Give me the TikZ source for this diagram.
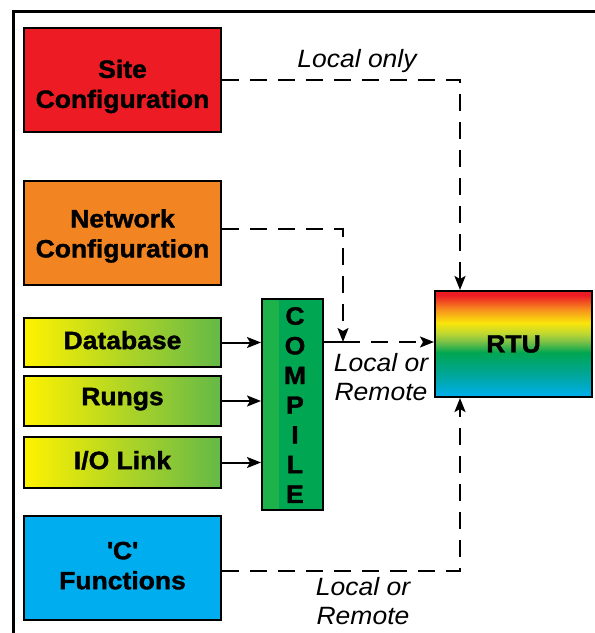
\documentclass[tikz,border=0pt]{standalone}
\usepackage{fontspec}
\setmainfont{Liberation Sans}[FakeStretch=1.06, BoldFeatures={FakeBold=1.5}]
\usetikzlibrary{arrows.meta}

\definecolor{sitered}{RGB}{237,28,36}
\definecolor{netorange}{RGB}{242,133,34}
\definecolor{cblue}{RGB}{0,174,239}
\definecolor{dbyellow}{RGB}{255,242,0}
\definecolor{dbgreen}{RGB}{100,185,72}
\definecolor{cmpgreen}{RGB}{0,166,81}
\definecolor{cmplight}{RGB}{30,178,75}
\definecolor{rtured}{RGB}{237,28,36}
\definecolor{rtuorange}{RGB}{247,148,29}
\definecolor{rtuyellow}{RGB}{250,230,10}
\definecolor{rtuyg}{RGB}{190,215,50}
\definecolor{rtulg}{RGB}{120,192,70}
\definecolor{rtugreen}{RGB}{0,166,81}
\definecolor{rtuteal}{RGB}{0,166,150}
\definecolor{rtublue}{RGB}{0,174,239}

% rainbow fill of the RTU block, bottom (25bp) to top (75bp)
\pgfdeclareverticalshading{rtushade}{100bp}{%
  color(0bp)=(rtublue); color(25bp)=(rtublue); color(36bp)=(rtuteal);
  color(46bp)=(rtugreen); color(51bp)=(rtulg); color(55bp)=(rtuyg);
  color(60bp)=(rtuyellow); color(66bp)=(rtuorange); color(73bp)=(rtured);
  color(100bp)=(rtured)}

\tikzset{
  boxtext/.style={font=\fontsize{25}{30}\selectfont\bfseries, align=center},
  bigbox/.style={draw=black, line width=2pt, minimum width=197pt, minimum height=104pt, inner sep=0pt, boxtext},
  srcbox/.style={draw=black, line width=2pt, minimum width=197pt, inner sep=0pt, boxtext,
    left color=dbyellow, right color=dbgreen},
  lbl/.style={font=\fontsize{25}{28.5}\selectfont\itshape, align=center, inner sep=0pt},
  dashline/.style={line width=2pt, dash pattern=on 17pt off 11pt},
  tip/.style={-{Stealth[length=14pt, width=11pt, inset=3pt]}},
  solidarrow/.style={line width=2pt, tip},
}

\begin{document}
\begin{tikzpicture}[x=1pt, y=-1pt]
\useasboundingbox (0,0) rectangle (595,633);

% frame edges
\draw[line width=3pt] (13.5,640) -- (13.5,11.5) -- (600,11.5);

% input blocks (struts set the vertical placement of the text lines)
\node[bigbox, fill=sitered] (S) at (122.5,80) {\rule{0pt}{31pt}Site\\Configuration};
\node[bigbox, fill=netorange] (N) at (122.5,233) {\rule{0pt}{24pt}Network\\Configuration};
\node[srcbox, minimum height=49pt] (D) at (122.5,342.5) {Database\rule[-5pt]{0pt}{5pt}};
\node[srcbox, minimum height=50pt] (G) at (122.5,401) {Rungs\rule[-9pt]{0pt}{9pt}};
\node[srcbox, minimum height=51pt] (L) at (122.5,462.5) {I/O Link\rule[-5pt]{0pt}{5pt}};
\node[bigbox, fill=cblue] (C) at (122.5,568) {\textquotesingle C\textquotesingle\\Functions\rule[-5pt]{0pt}{5pt}};

% compile block
\fill[cmpgreen] (262,299) rectangle (323,510);
\fill[cmplight] (262,299) rectangle (279,510);
\node[draw=black, line width=2pt, minimum width=61pt, minimum height=211pt, inner sep=0pt] (K) at (292.5,404.5) {};
\node[font=\fontsize{25}{29.7}\selectfont\bfseries, align=center, inner sep=0pt] (KT) at (295,405) {C\\O\\M\\P\\I\\L\\E};

% RTU block
\node[draw=black, line width=2pt, minimum width=157pt, minimum height=106pt, inner sep=0pt,
  shading=rtushade, boxtext] (R) at (513.5,344) {RTU};

% junction where the network link meets the compile output
\coordinate (J) at (343,342);

% connectors
\draw[dashline, tip] (S.east) -| ([xshift=-53.5pt]R.north);
\draw[dashline, tip] ([yshift=4pt]N.east) -| (J);
\draw[line width=2pt] (K.east |- J) -- (J);
\draw[dashline, tip] (J) -- (J -| R.west);
\draw[dashline, tip] ([yshift=-3pt]C.east) -| ([xshift=-53.5pt]R.south);
\draw[solidarrow] (D.east) -- (D.east -| K.west);
\draw[solidarrow] (G.east) -- (G.east -| K.west);
\draw[solidarrow] (L.east) -- (L.east -| K.west);

% link labels
\node[lbl, anchor=base] (l1) at (357,67) {Local only};
\node[lbl] (l2) at (381,377) {Local or\\Remote};
\node[lbl] (l3) at (363,601) {Local or\\Remote};
\end{tikzpicture}
\end{document}
